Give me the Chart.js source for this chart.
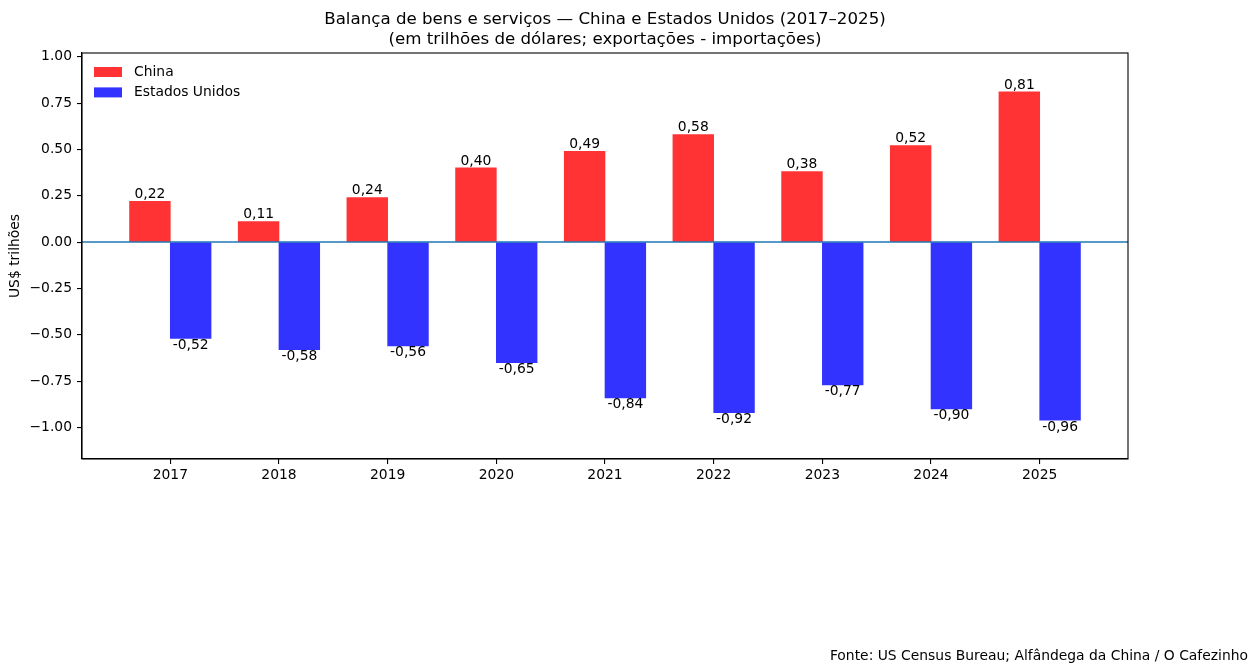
<!DOCTYPE html>
<html>
<head>
<meta charset="utf-8">
<script src="https://cdn.jsdelivr.net/npm/chart.js@4"></script>
<style>
  html, body { margin: 0; padding: 0; background: #fff; }
  #wrap { width: 1259px; height: 672px; position: relative; }
</style>
</head>
<body>
<div id="wrap"><canvas id="c" width="1259" height="672"></canvas></div>
<script>
// ---- data ----
const years = ['2017', '2018', '2019', '2020', '2021', '2022', '2023', '2024', '2025'];
const chinaValues = [0.22, 0.11, 0.24, 0.40, 0.49, 0.58, 0.38, 0.52, 0.81];
const usValues = [-0.52, -0.58, -0.56, -0.65, -0.84, -0.92, -0.77, -0.90, -0.96];
const yTickValues = [-1.00, -0.75, -0.50, -0.25, 0.00, 0.25, 0.50, 0.75, 1.00];
const seriesNames = ['China', 'Estados Unidos'];
const titleLines = ['Balança de bens e serviços — China e Estados Unidos (2017–2025)',
                    '(em trilhões de dólares; exportações - importações)'];
const yAxisTitle = 'US$ trilhões';
const sourceText = 'Fonte: US Census Bureau; Alfândega da China / O Cafezinho';

// ---- styling ----
const FONT = "'DejaVu Sans', sans-serif";
const FS = 13.89;
const BAR_W = 0.375;           // bar width in category units
const RED = 'rgba(255,0,0,0.8)';
const BLUE = 'rgba(0,0,255,0.8)';

const chinaPts = chinaValues.map((v, i) => ({ x: i - BAR_W / 2, y: v }));
const usPts = usValues.map((v, i) => ({ x: i + BAR_W / 2, y: v }));

const fmtLabel = v => v.toFixed(2).replace('.', ',');
const fmtTick = v => { const s = Math.abs(v).toFixed(2); return v < -1e-9 ? '\u2212' + s : s; };

const decorPlugin = {
  id: 'decor',
  afterDatasetsDraw(chart) {
    const ctx = chart.ctx;
    const ca = chart.chartArea;
    const ys = chart.scales.y;
    // zero line
    const y0 = ys.getPixelForValue(0);
    ctx.save();
    ctx.strokeStyle = '#1f77b4';
    ctx.lineWidth = 1.5;
    ctx.beginPath();
    ctx.moveTo(ca.left, y0);
    ctx.lineTo(ca.right, y0);
    ctx.stroke();
    // value labels
    ctx.fillStyle = '#000';
    ctx.font = FS + 'px ' + FONT;
    ctx.textAlign = 'center';
    chart.data.datasets.forEach((ds, di) => {
      const meta = chart.getDatasetMeta(di);
      meta.data.forEach((el, i) => {
        const v = ds.data[i].y;
        ctx.textBaseline = v >= 0 ? 'bottom' : 'top';
        ctx.fillText(fmtLabel(v), el.x, el.y);
      });
    });
    ctx.restore();
  },
  afterDraw(chart) {
    const ctx = chart.ctx;
    const ca = chart.chartArea;
    ctx.save();
    // frame
    ctx.strokeStyle = '#000';
    ctx.lineWidth = 1.1;
    ctx.strokeRect(ca.left, ca.top, ca.right - ca.left, ca.bottom - ca.top);
    // legend
    ctx.font = FS + 'px ' + FONT;
    ctx.textBaseline = 'middle';
    ctx.textAlign = 'left';
    chart.data.datasets.forEach((ds, di) => {
      const top = ca.top + 14 + di * 20.4;
      ctx.fillStyle = ds.backgroundColor;
      ctx.fillRect(ca.left + 12, top, 28, 10);
      ctx.fillStyle = '#000';
      ctx.fillText(ds.label, ca.left + 52, top + 5);
    });
    // title
    ctx.font = '16.67px ' + FONT;
    ctx.textAlign = 'center';
    ctx.textBaseline = 'alphabetic';
    const cx = (ca.left + ca.right) / 2;
    ctx.fillText(titleLines[0], cx, 24);
    ctx.fillText(titleLines[1], cx, 44);
    // source
    ctx.font = FS + 'px ' + FONT;
    ctx.textAlign = 'right';
    ctx.fillText(sourceText, 1248, 660);
    ctx.restore();
  }
};

new Chart(document.getElementById('c'), {
  type: 'bar',
  data: {
    datasets: [
      { label: seriesNames[0], data: chinaPts, backgroundColor: RED, borderWidth: 0 },
      { label: seriesNames[1], data: usPts, backgroundColor: BLUE, borderWidth: 0 }
    ]
  },
  options: {
    responsive: false,
    animation: false,
    events: [],
    layout: { padding: { top: 53, right: 131, bottom: 183, left: 0 } },
    datasets: { bar: { grouped: false, categoryPercentage: 1, barPercentage: 1 } },
    plugins: { legend: { display: false }, title: { display: false }, tooltip: { enabled: false } },
    scales: {
      x: {
        type: 'linear',
        offset: false,
        min: -0.8125,
        max: years.length - 1 + 0.8125,
        afterBuildTicks(scale) { scale.ticks = years.map((_, i) => ({ value: i })); },
        afterFit(scale) { scale.height = 30; },
        ticks: {
          callback: (v) => years[Math.round(v)] ?? '',
          color: '#000', font: { family: FONT, size: FS }, padding: 3, maxRotation: 0, autoSkip: false
        },
        grid: { offset: false, drawOnChartArea: false, drawTicks: true, tickLength: 5, color: '#000', lineWidth: 1.1 },
        border: { display: true, color: '#000', width: 1.1 }
      },
      y: {
        type: 'linear',
        min: -1.17,
        max: 1.02,
        afterBuildTicks(scale) { scale.ticks = yTickValues.map(v => ({ value: v })); },
        afterFit(scale) { scale.width = 82; },
        ticks: {
          callback: (v) => fmtTick(v),
          color: '#000', font: { family: FONT, size: FS }, padding: 5
        },
        title: {
          display: true, text: yAxisTitle, color: '#000',
          font: { family: FONT, size: FS }, padding: { top: 7, bottom: 0 }
        },
        grid: { drawOnChartArea: false, drawTicks: true, tickLength: 5, color: '#000', lineWidth: 1.1 },
        border: { display: true, color: '#000', width: 1.1 }
      }
    }
  },
  plugins: [decorPlugin]
});
</script>
</body>
</html>
